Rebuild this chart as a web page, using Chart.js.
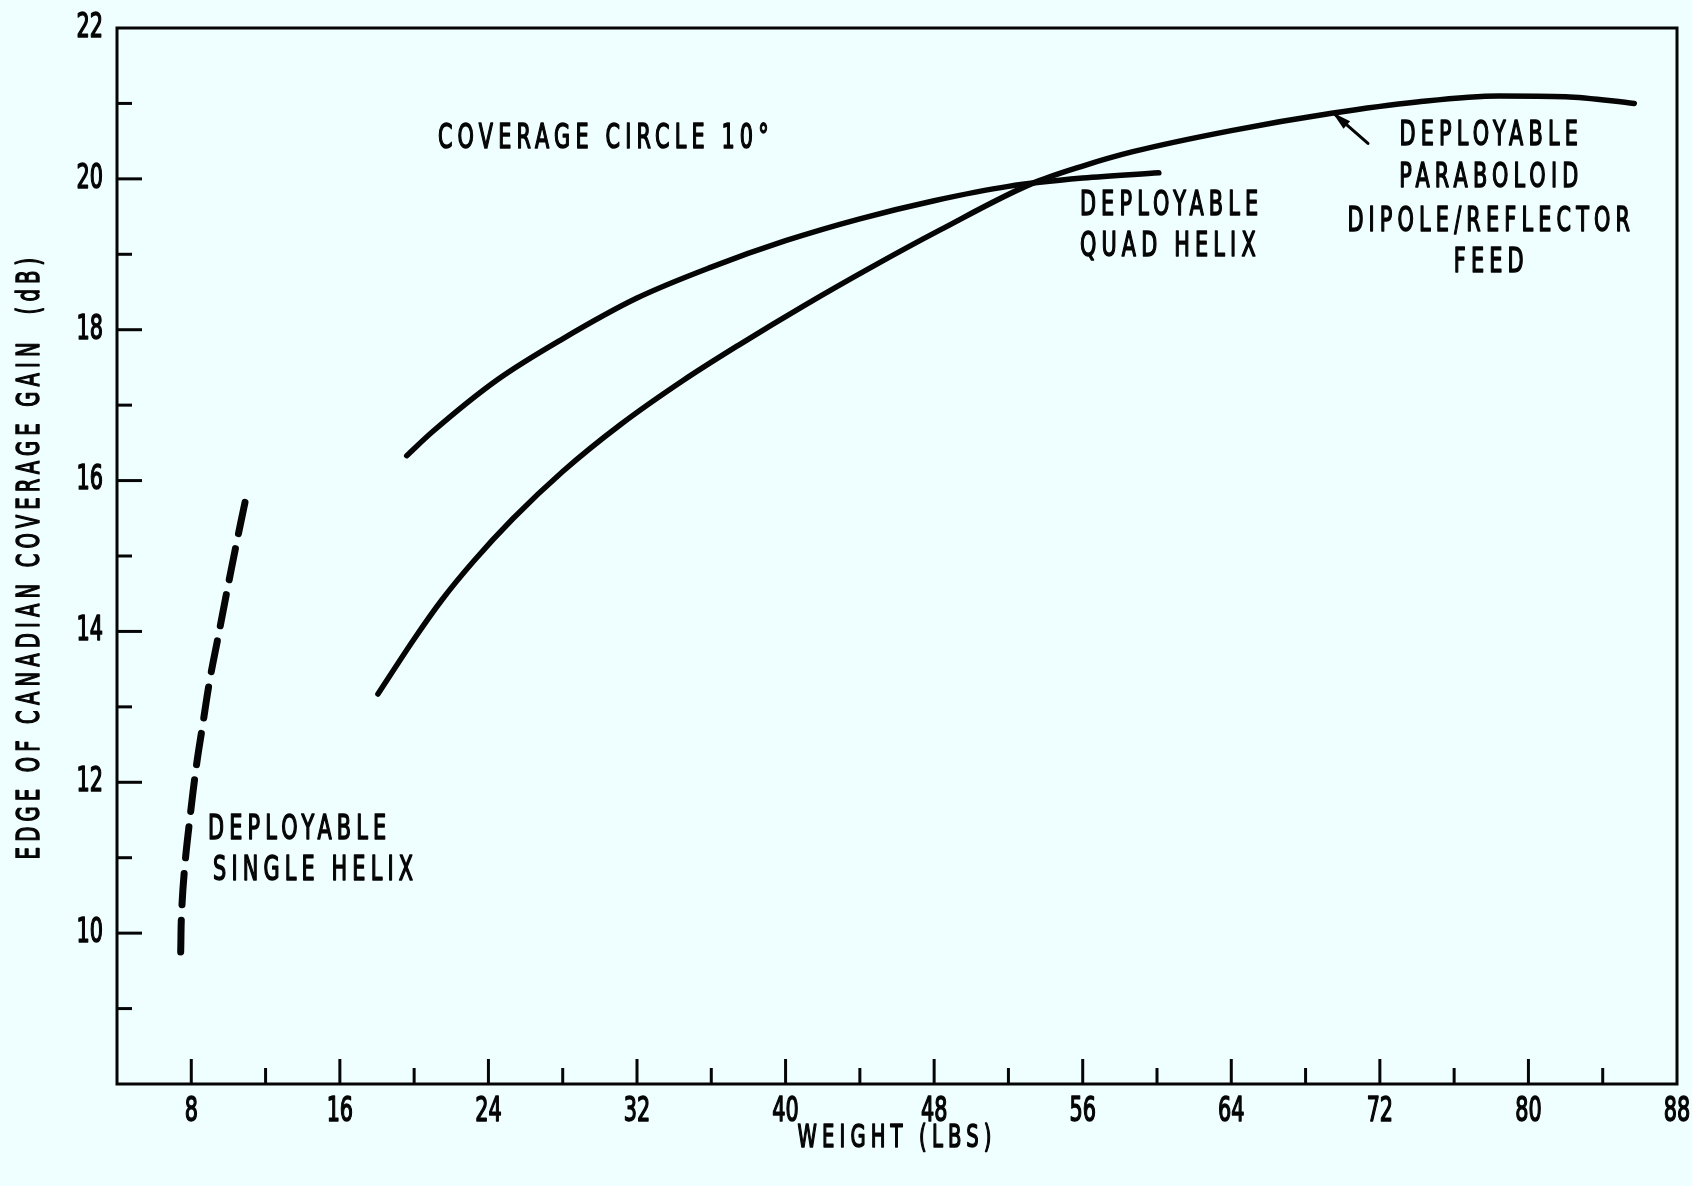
<!DOCTYPE html>
<html>
<head>
<meta charset="utf-8">
<script src="https://cdn.jsdelivr.net/npm/chart.js@4/dist/chart.umd.min.js"></script>
<style>
  html, body { margin: 0; padding: 0; background: #effefe; }
  #wrap { width: 1692px; height: 1186px; }
</style>
</head>
<body>
<div id="wrap"><canvas id="c" width="1692" height="1186"></canvas></div>
<script>
// Weight (lbs) vs. edge-of-coverage gain (dB) for three deployable antennas
const singleHelixWeight = [7.43, 7.48, 7.65, 7.92, 8.27, 8.62, 9.0, 9.44, 9.91, 10.41, 10.9];
const singleHelixGain   = [9.75, 10.28, 10.89, 11.51, 12.21, 12.77, 13.36, 13.92, 14.52, 15.14, 15.72];

const quadHelixWeight = [19.6, 21, 24.5, 28, 32, 36, 40, 44, 48, 52, 56, 60.1];
const quadHelixGain   = [16.33, 16.65, 17.34, 17.88, 18.42, 18.83, 19.18, 19.47, 19.71, 19.9, 20.01, 20.08];

const paraboloidWeight = [18.05, 20, 21.5, 23.2, 25.3, 28, 31.1, 34.5, 37.5, 41, 44.7, 48.3, 53.2, 56, 58.7, 64, 69.4, 74, 78.4, 82, 85.7];
const paraboloidGain   = [13.17, 13.9, 14.42, 14.93, 15.49, 16.12, 16.74, 17.33, 17.8, 18.32, 18.84, 19.32, 19.93, 20.17, 20.36, 20.64, 20.87, 21.02, 21.1, 21.09, 21.0];

// Axis ranges and tick steps
const weightMin = 4, weightMax = 88, weightStep = 4, weightLabelStep = 8;
const gainMin = 8, gainMax = 22, gainStep = 1, gainLabelStep = 2;

// Annotation text, anchored in data coordinates
const notes = [
  { lines: ['COVERAGE CIRCLE 10°'], x: 21.28, y: [20.52], align: 'left' },
  { lines: ['DEPLOYABLE', 'QUAD HELIX'], x: 55.85, y: [19.64, 19.10], align: 'left' },
  { lines: ['DEPLOYABLE', 'PARABOLOID', 'DIPOLE/REFLECTOR', 'FEED'], x: 78.0, y: [20.56, 20.01, 19.43, 18.88], align: 'center' },
  { lines: ['DEPLOYABLE'], x: 8.9, y: [11.36], align: 'left' },
  { lines: ['SINGLE HELIX'], x: 9.17, y: [10.82], align: 'left' }
];
// Leader from the paraboloid label to its curve: [tail, tip]
const leader = [{ x: 71.36, y: 20.47 }, { x: 69.45, y: 20.88 }];

const INK = '#050505';
const PAPER = '#effefe';
const FONT = "'DejaVu Sans Condensed', 'DejaVu Sans', sans-serif";

// Lettering: tall, narrow, widely spaced capitals
const TEXT_SQUEEZE = 0.68;
function useNarrowLettering(ctx) {
  const fill = ctx.fillText;
  ctx.fillText = function (text, x, y) {
    const s = String(text);
    this.save();
    this.translate(x, y);
    this.scale(TEXT_SQUEEZE, 1);
    this.letterSpacing = /^[0-9]+$/.test(s) ? '0px' : '7.6px';
    this.lineWidth = 1.5;
    this.lineJoin = 'round';
    this.strokeStyle = this.fillStyle;
    fill.call(this, s, 0, 0);
    this.strokeText(s, 0, 0);
    this.restore();
  };
}

const toPoints = (xs, ys) => xs.map((x, i) => ({ x, y: ys[i] }));

const framePlugin = {
  id: 'frame',
  beforeDraw(chart) {
    const ctx = chart.ctx;
    ctx.save();
    ctx.fillStyle = PAPER;
    ctx.fillRect(0, 0, chart.width, chart.height);
    ctx.restore();
  },
  afterDraw(chart) {
    const { ctx, chartArea: a, scales: { x, y } } = chart;
    ctx.save();
    ctx.strokeStyle = INK;
    ctx.lineWidth = 3;
    ctx.lineCap = 'square';
    ctx.strokeRect(a.left, a.top, a.right - a.left, a.bottom - a.top);
    // inward tick marks: long at labelled values, short between
    ctx.lineCap = 'butt';
    x.ticks.forEach(t => {
      if (t.value <= weightMin || t.value >= weightMax) return;
      const px = x.getPixelForValue(t.value);
      const len = t.value % weightLabelStep === 0 ? 25 : 16;
      ctx.beginPath();
      ctx.moveTo(px, a.bottom);
      ctx.lineTo(px, a.bottom - len);
      ctx.stroke();
    });
    y.ticks.forEach(t => {
      if (t.value <= gainMin || t.value >= gainMax) return;
      const py = y.getPixelForValue(t.value);
      const len = t.value % gainLabelStep === 0 ? 25 : 15;
      ctx.beginPath();
      ctx.moveTo(a.left, py);
      ctx.lineTo(a.left + len, py);
      ctx.stroke();
    });

    // annotations
    ctx.fillStyle = INK;
    ctx.font = '34px ' + FONT;
    ctx.textBaseline = 'middle';
    notes.forEach(n => {
      ctx.textAlign = n.align;
      n.lines.forEach((s, i) => {
        ctx.fillText(s, x.getPixelForValue(n.x), y.getPixelForValue(n.y[i]));
      });
    });

    // leader with arrowhead
    const x0 = x.getPixelForValue(leader[0].x), y0 = y.getPixelForValue(leader[0].y);
    const x1 = x.getPixelForValue(leader[1].x), y1 = y.getPixelForValue(leader[1].y);
    ctx.lineWidth = 3;
    ctx.lineCap = 'round';
    ctx.beginPath();
    ctx.moveTo(x0, y0);
    ctx.lineTo(x1, y1);
    ctx.stroke();
    const ang = Math.atan2(y1 - y0, x1 - x0);
    const L = 19, W = 5;
    ctx.beginPath();
    ctx.moveTo(x1, y1);
    ctx.lineTo(x1 - L * Math.cos(ang) + W * Math.sin(ang), y1 - L * Math.sin(ang) - W * Math.cos(ang));
    ctx.lineTo(x1 - L * Math.cos(ang) - W * Math.sin(ang), y1 - L * Math.sin(ang) + W * Math.cos(ang));
    ctx.closePath();
    ctx.fill();
    ctx.restore();
  }
};

const lineStyle = {
  borderColor: INK,
  backgroundColor: INK,
  pointRadius: 0,
  fill: false,
  borderCapStyle: 'round',
  borderJoinStyle: 'round'
};

const canvas = document.getElementById('c');
const context = canvas.getContext('2d');
useNarrowLettering(context);

new Chart(context, {
  type: 'line',
  data: {
    datasets: [
      { ...lineStyle, label: 'Deployable single helix', data: toPoints(singleHelixWeight, singleHelixGain),
        borderWidth: 7, borderDash: [32, 15], tension: 0.4 },
      { ...lineStyle, label: 'Deployable quad helix', data: toPoints(quadHelixWeight, quadHelixGain),
        borderWidth: 5.5, cubicInterpolationMode: 'monotone' },
      { ...lineStyle, label: 'Deployable paraboloid, dipole/reflector feed', data: toPoints(paraboloidWeight, paraboloidGain),
        borderWidth: 5.5, cubicInterpolationMode: 'monotone' }
    ]
  },
  options: {
    responsive: false,
    animation: false,
    layout: { padding: { top: 28, right: 15, bottom: 0, left: 0 } },
    plugins: { legend: { display: false }, tooltip: { enabled: false } },
    scales: {
      x: {
        type: 'linear',
        min: weightMin, max: weightMax,
        grid: { display: true, drawOnChartArea: false, drawTicks: false, color: 'rgba(0,0,0,0)' },
        border: { display: false },
        ticks: {
          stepSize: weightStep, autoSkip: false, maxRotation: 0, padding: 8,
          color: INK, font: { family: FONT, size: 34 },
          callback: v => (v % weightLabelStep === 0 ? String(v) : '')
        },
        title: { display: true, text: 'WEIGHT (LBS)', color: INK, font: { family: FONT, size: 32 }, padding: { top: 0, bottom: 28 } },
        afterFit: s => { s.height = 102; s.paddingLeft = 0; s.paddingRight = 0; }
      },
      y: {
        type: 'linear',
        min: gainMin, max: gainMax,
        grid: { display: true, drawOnChartArea: false, drawTicks: false, color: 'rgba(0,0,0,0)' },
        border: { display: false },
        ticks: {
          stepSize: gainStep, autoSkip: false, padding: 14,
          color: INK, font: { family: FONT, size: 34 },
          callback: v => (v % gainLabelStep === 0 && v > gainMin ? String(v) : '')
        },
        title: { display: true, text: 'EDGE OF CANADIAN COVERAGE GAIN  (dB)', color: INK, font: { family: FONT, size: 32 }, padding: { top: 11, bottom: 0 } },
        afterFit: s => { s.width = 117; s.paddingTop = 0; s.paddingBottom = 0; }
      }
    }
  },
  plugins: [framePlugin]
});
</script>
</body>
</html>
